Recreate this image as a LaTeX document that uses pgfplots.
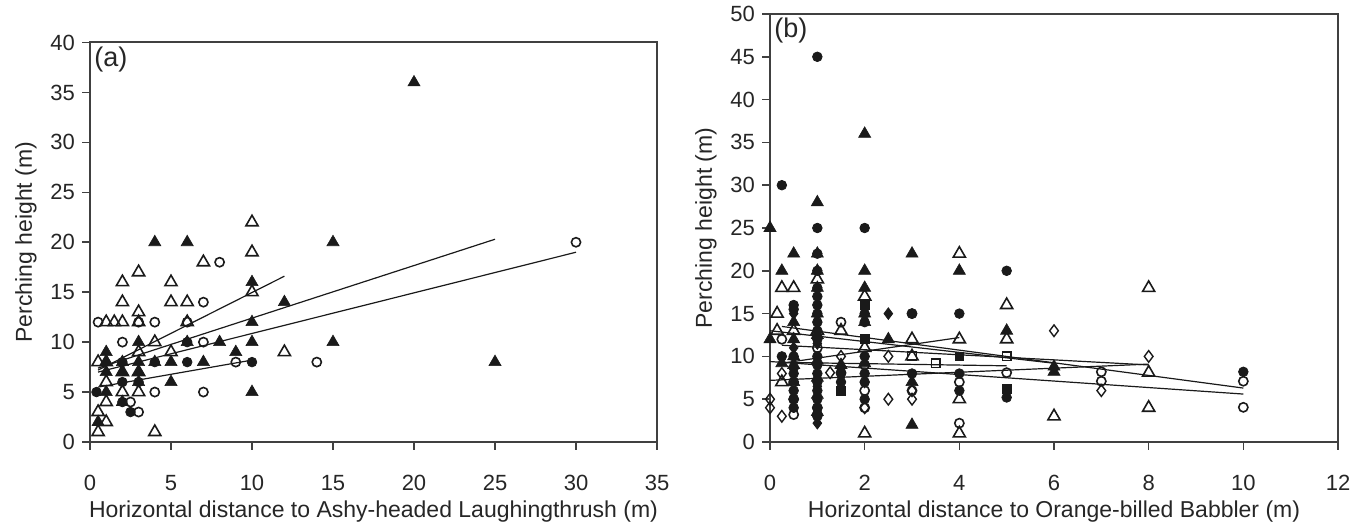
\documentclass[border=0pt]{standalone}
\usepackage{fontspec}
\setmainfont{Liberation Sans}
\usepackage{pgfplots}
\pgfplotsset{compat=1.18}

\definecolor{mk}{HTML}{1A1A1A}
\definecolor{axgray}{HTML}{404040}

\pgfplotsset{
  panel/.style={
    scale only axis, anchor=south west, clip=false,
    axis line style={line width=1pt, draw=axgray},
    tick style={line width=0.8pt, draw=axgray},
    major tick length=4pt, tick align=outside,
    xtick pos=bottom, ytick pos=left,
    /pgf/number format/assume math mode=true,
    tick label style={font=\fontsize{11}{13}\selectfont, text=black!85},
    label style={font=\fontsize{11.5}{13}\selectfont, text=black!85},
    xticklabel style={yshift=-9pt},
    xlabel style={yshift=2pt},
  },
  ftri/.style={only marks, mark=triangle*, mark size=3.5pt, mark options={draw=mk, fill=mk, line width=0.3pt}},
  otri/.style={only marks, mark=triangle, mark size=3.5pt, mark options={draw=mk, line width=0.8pt}},
  fcirc/.style={only marks, mark=*, mark size=2.4pt, mark options={draw=mk, fill=mk}},
  ocirc/.style={only marks, mark=o, mark size=2.3pt, mark options={draw=mk, line width=0.8pt}},
  odia/.style={only marks, mark=diamond, mark size=2.9pt, mark options={draw=mk, line width=0.7pt}},
  fdia/.style={only marks, mark=diamond*, mark size=2.9pt, mark options={draw=mk, fill=mk}},
  osq/.style={only marks, mark=square, mark size=2.2pt, mark options={draw=mk, line width=0.7pt}},
  fsq/.style={only marks, mark=square*, mark size=2.2pt, mark options={draw=mk, fill=mk}},
  fit/.style={no markers, draw=mk, line width=0.6pt},
}

\begin{document}
\begin{tikzpicture}
\path[use as bounding box] (0,0) rectangle (680pt,262pt);

% (a) Ashy-headed Laughingthrush
\begin{axis}[panel, at={(45pt,41pt)}, width=283.5pt, height=199.75pt,
  xmin=0, xmax=35, ymin=0, ymax=40,
  xtick={0,5,...,35}, ytick={0,5,...,40},
  xlabel={Horizontal distance to Ashy-headed Laughingthrush (m)},
  ylabel={Perching height (m)}]
\addplot[ftri] coordinates {
  (0.5,2) (1,5) (1,7) (1,8) (1,9) (2,7) (2,8) (2,4) (3,6) (3,7) (3,8) (3,10)
  (4,8) (4,20) (5,6) (5,8) (6,10) (6,20) (7,8) (8,10) (9,9) (10,5) (10,10)
  (10,12) (10,16) (12,14) (15,10) (15,20) (20,36) (25,8)};
\addplot[otri] coordinates {
  (0.5,1) (0.5,3) (0.5,8) (1,2) (1,4) (1,6) (1,8) (1,12) (1.5,12) (2,5) (2,7)
  (2,12) (2,14) (2,16) (3,5) (3,7) (3,9) (3,12) (3,13) (3,17) (4,1) (4,10)
  (5,9) (5,14) (5,16) (6,12) (6,14) (7,18) (10,15) (10,19) (10,22) (12,9)};
\addplot[fcirc] coordinates {
  (0.4,5) (2,4) (2,6) (2,8) (2.5,3) (3,6) (4,8) (6,8) (6,10) (10,8)};
\addplot[ocirc] coordinates {
  (0.5,12) (2,10) (2.5,4) (3,3) (3,12) (4,5) (4,12) (6,12) (7,5) (7,10)
  (7,14) (8,18) (9,8) (14,8) (30,20)};
\addplot[fit] coordinates {(0.5,7.2) (12,16.6)};
\addplot[fit] coordinates {(0.5,7.4) (25,20.3)};
\addplot[fit] coordinates {(0.5,7.0) (30,19.0)};
\addplot[fit] coordinates {(0.5,5.5) (10,8.2)};
\node[anchor=north west, font=\fontsize{13.5}{15}\selectfont, text=black!85, inner sep=2pt]
  at (rel axis cs:0,1) {(a)};
\end{axis}

% (b) Orange-billed Babbler
\begin{axis}[panel, at={(385pt,41pt)}, width=284pt, height=214pt,
  xmin=0, xmax=12, ymin=0, ymax=50,
  xtick={0,2,...,12}, ytick={0,5,...,50},
  xlabel={Horizontal distance to Orange-billed Babbler (m)},
  ylabel={Perching height (m)}]
\addplot[fcirc] coordinates {
  (0.25,30) (0.25,10) (0.5,16) (0.5,15.5) (0.5,10) (0.5,8) (0.5,6) (0.5,5) (0.5,4)
  (1,45) (1,25) (1,22) (1,20) (1,18) (1,17) (1,16) (1,15) (1,14) (1,13) (1,12)
  (1,10) (1,9) (1,8) (1,7) (1,6) (1,5) (1,4) (1,3)
  (1.5,7) (1.5,8) (2,25) (2,15) (2,14) (2,10) (2,8) (2,7) (2,5)
  (3,15) (3,8) (4,15) (4,8) (4,6) (5,20) (5,5.2) (10,8.2)};
\addplot[ftri] coordinates {
  (0,25) (0,12) (0.25,20) (0.25,9.2) (0.5,22) (0.5,14) (0.5,12) (0.5,10) (0.5,9)
  (0.5,7) (1,28) (1,22) (1,20) (1,18) (1,15) (1,12.5) (1,9.5) (1,7.5) (1,5.5)
  (1,3.5) (1.5,9) (2,36) (2,20) (2,18) (2,15) (2,14) (2,9.2) (2.5,12) (3,22)
  (3,7) (3,2) (4,20) (5,13) (6,8.8) (6,8.2)};
\addplot[otri] coordinates {
  (0.15,15) (0.15,13) (0.25,18) (0.25,7) (0.5,18) (0.5,13) (1,19) (1,13)
  (1.5,13) (2,17) (2,11) (2,1) (3,12) (3,10) (4,22) (4,12) (4,5) (4,1)
  (5,16) (5,12) (6,3) (8,18) (8,8.1) (8,4)};
\addplot[ocirc] coordinates {
  (0.25,12) (0.5,7) (0.5,5) (0.5,3.2) (1,11) (1,4) (1,3.2) (1.5,14) (1.5,8.1)
  (2,9) (2,6) (2,4) (3,15) (3,6) (4,7) (4,2.2) (5,8.1) (7,8.2) (7,7.1)
  (10,7.1) (10,4.05)};
\addplot[odia] coordinates {
  (0,5) (0,4) (0.25,8) (0.25,3) (1.27,8.1) (1.5,10) (2,4) (2.5,10) (2.5,5)
  (3,6) (3,5) (6,13) (7,6) (8,10)};
\addplot[fdia] coordinates {
  (0.5,15) (0.5,11) (0.5,8.5) (1,2.2) (1,6.5) (1,11.5) (2,7) (2.5,15)};
\addplot[osq] coordinates {(3,10) (3.5,9.2) (5,10)};
\addplot[fsq] coordinates {(1.5,6) (2,16) (2,12) (4,10) (5,6.2)};
\addplot[fit] coordinates {(0.25,13.5) (10,6.3)};
\addplot[fit] coordinates {(0,13.0) (6,9.2)};
\addplot[fit] coordinates {(0.25,11.3) (8,9.0)};
\addplot[fit] coordinates {(0.25,9.2) (4,12.2)};
\addplot[fit] coordinates {(0.25,9.3) (5,8.9)};
\addplot[fit] coordinates {(0,7.2) (8,9.1)};
\addplot[fit] coordinates {(0,9.4) (10,5.6)};
\node[anchor=north west, font=\fontsize{13.5}{15}\selectfont, text=black!85, inner sep=2pt]
  at (rel axis cs:0,1) {(b)};
\end{axis}
\end{tikzpicture}
\end{document}
